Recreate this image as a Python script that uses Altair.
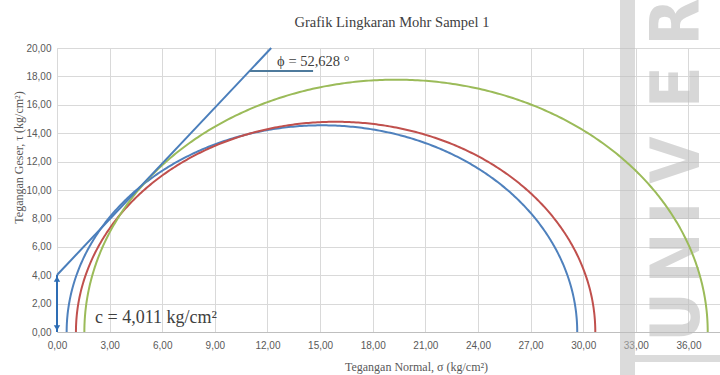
import numpy as np
import pandas as pd
import altair as alt

# Principal stresses of each specimen (kg/cm²)
specimen = ["Sampel 1a", "Sampel 1b", "Sampel 1c"]
sigma3 = [0.55, 1.08, 1.56]
sigma1 = [29.66, 30.69, 37.10]
circle_colors = ["#4F81BD", "#C0504D", "#9BBB59"]

# Mohr-Coulomb envelope
cohesion = 4.011      # kg/cm²
phi_deg = 52.628      # degrees

x_ticks = [0, 3, 6, 9, 12, 15, 18, 21, 24, 27, 30, 33, 36]
y_ticks = [0, 2, 4, 6, 8, 10, 12, 14, 16, 18, 20]
x_max = 37.8
y_max = 20

# small horizontal marker under the friction angle label
phi_marker_x = [10.97, 14.6]
phi_marker_y = 18.38

# semicircles: centre (s1+s3)/2, radius (s1-s3)/2
theta = np.radians(np.arange(0, 180.5, 0.5))
rows = []
for name, s3, s1 in zip(specimen, sigma3, sigma1):
    c = (s1 + s3) / 2
    r = (s1 - s3) / 2
    for i, t in enumerate(theta):
        rows.append({"specimen": name, "idx": i,
                     "sigma": c + r * np.cos(t), "tau": r * np.sin(t)})
circles = pd.DataFrame(rows)

tan_phi = np.tan(np.radians(phi_deg))
envelope = pd.DataFrame({"sigma": [0, (y_max - cohesion) / tan_phi],
                         "tau": [cohesion, y_max]})

num_fmt = "replace(format(datum.value, '.2f'), '.', ',')"
x_scale = alt.Scale(domain=[0, x_max], nice=False, zero=False)
y_scale = alt.Scale(domain=[0, y_max], nice=False, zero=False)
x_axis = alt.Axis(values=x_ticks, labelExpr=num_fmt, grid=True,
                  gridColor="#D9D9D9", ticks=False, domainColor="#BFBFBF",
                  labelFont="Liberation Sans", labelFontSize=10,
                  labelColor="#595959", labelPadding=8,
                  labelOverlap=False, labelFlush=False,
                  title="Tegangan Normal, σ (kg/cm²)",
                  titleFont="Liberation Serif", titleFontSize=12,
                  titleFontWeight="normal", titleColor="#595959",
                  titleX=359, titleY=34, titleBaseline="middle")
y_axis = alt.Axis(values=y_ticks, labelExpr=num_fmt, grid=True,
                  gridColor="#D9D9D9", ticks=False, domain=False,
                  labelFont="Liberation Sans", labelFontSize=10,
                  labelColor="#595959", labelPadding=6,
                  labelOverlap=False, labelFlush=False,
                  title="Tegangan Geser, τ (kg/cm²)",
                  titleFont="Liberation Serif", titleFontSize=12,
                  titleFontWeight="normal", titleColor="#595959",
                  titleX=-39, titleY=109, titleBaseline="middle")


def xy(xf="sigma", yf="tau"):
    return dict(x=alt.X(f"{xf}:Q", scale=x_scale, axis=x_axis),
                y=alt.Y(f"{yf}:Q", scale=y_scale, axis=y_axis))


one = pd.DataFrame({"k": [0]})

# chart heading
heading = alt.Chart(one).mark_text(
    text="Grafik Lingkaran Mohr Sampel 1", font="Liberation Serif", fontSize=14.5,
    color="#404040", align="center", baseline="middle"
).encode(x=alt.value(335), y=alt.value(-25))

# faint watermark lettering on the right
wm_letters = ["U", "N", "I", "V", "E", "R"]
wm_y = [269, 210, 165, 112, 39, -26]
wm_color = "#BDBDBD"
wm_layers = [
    alt.Chart(one).mark_rect(color=wm_color, opacity=0.55).encode(
        x=alt.value(563), x2=alt.value(578), y=alt.value(-48), y2=alt.value(327)),
    alt.Chart(one).mark_rect(color=wm_color, opacity=0.55).encode(
        x=alt.value(578), x2=alt.value(663), y=alt.value(307), y2=alt.value(314)),
]
for letter, yy in zip(wm_letters, wm_y):
    wm_layers.append(
        alt.Chart(one).mark_text(text=letter, angle=270, fontSize=68, fontWeight="bold",
                                 font="Liberation Sans Narrow, DejaVu Sans Condensed, sans-serif",
                                 color=wm_color, opacity=0.6, align="center",
                                 baseline="middle")
        .encode(x=alt.value(622), y=alt.value(yy)))

circle_lines = alt.Chart(circles).mark_line(strokeWidth=2, clip=True).encode(
    **xy(),
    color=alt.Color("specimen:N", scale=alt.Scale(domain=specimen, range=circle_colors),
                    legend=None),
    order="idx:Q")

env_line = alt.Chart(envelope).mark_line(color="#4A7EBB", strokeWidth=2).encode(**xy())

marker = alt.Chart(pd.DataFrame({"sigma": [phi_marker_x[0]], "sigma2": [phi_marker_x[1]],
                                 "tau": [phi_marker_y]})).mark_rule(
    color="#4E7A9C", strokeWidth=2).encode(**xy(), x2="sigma2:Q")

arrow_df = pd.DataFrame({"sigma": [0], "tau": [0], "tau2": [cohesion]})
arrow = alt.Chart(arrow_df).mark_rule(color="#2E6DB4", strokeWidth=2).encode(
    **xy(), y2="tau2:Q")
head_top = alt.Chart(pd.DataFrame({"sigma": [0], "tau": [cohesion]})).mark_point(
    shape="triangle-up", filled=True, size=40, color="#2E6DB4", opacity=1, yOffset=4
).encode(**xy())
head_bot = alt.Chart(pd.DataFrame({"sigma": [0], "tau": [0]})).mark_point(
    shape="triangle-down", filled=True, size=40, color="#2E6DB4", opacity=1, yOffset=-4
).encode(**xy())

phi_text = alt.Chart(pd.DataFrame({"sigma": [12.55], "tau": [19.0],
                                   "t": [f"ϕ = {str(phi_deg).replace('.', ',')} °"]})
                     ).mark_text(font="Liberation Serif", fontSize=14.5, color="#404040",
                                 align="left", baseline="middle").encode(
    **xy(), text="t:N")

c_text = alt.Chart(pd.DataFrame({"sigma": [2.17], "tau": [0.99],
                                 "t": [f"c = {str(cohesion).replace('.', ',')} kg/cm²"]})
                   ).mark_text(font="Liberation Serif", fontSize=18, color="#404040",
                               align="left", baseline="middle").encode(
    **xy(), text="t:N")

chart = alt.layer(
    *wm_layers, circle_lines, env_line, marker, arrow, head_top, head_bot,
    phi_text, c_text, heading
).properties(
    width=663, height=284,
    padding={"left": 57, "top": 48, "right": 0, "bottom": 43},
    autosize=alt.AutoSizeParams(type="none"),
).configure_view(stroke=None).configure(background="white")

chart.save("out.html", embed_options={"renderer": "svg", "actions": False})
